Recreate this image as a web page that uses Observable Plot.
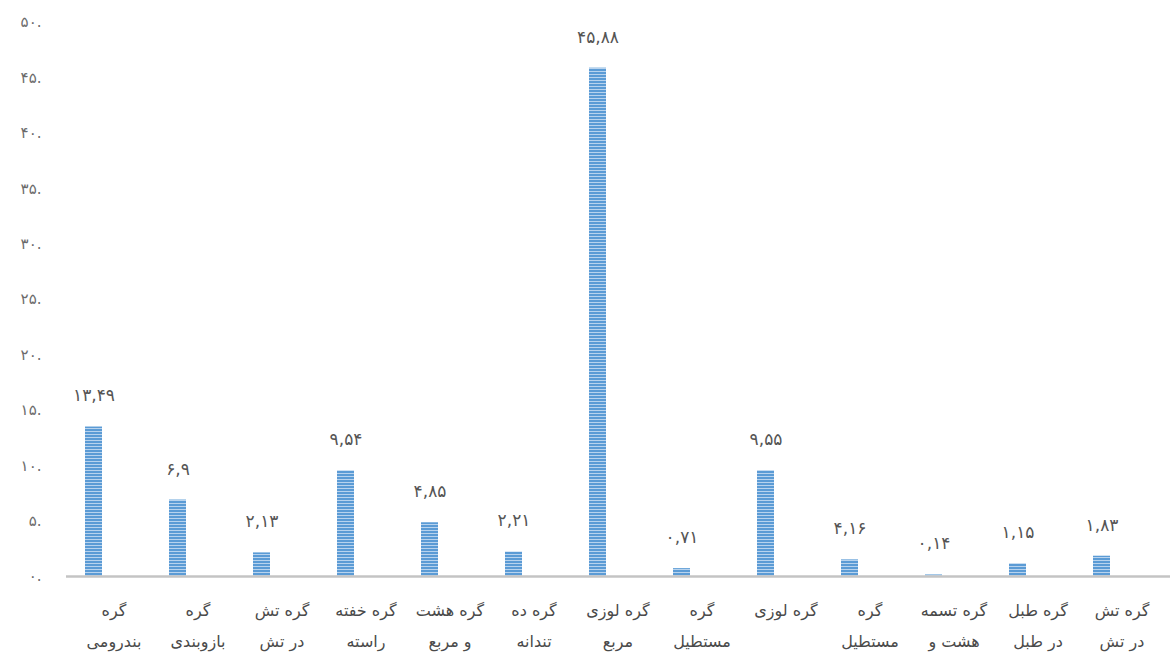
<!DOCTYPE html>
<html>
<head>
<meta charset="utf-8">
<script src="https://cdn.jsdelivr.net/npm/d3@7"></script>
<script src="https://cdn.jsdelivr.net/npm/@observablehq/plot@0.6"></script>
<style>
  body { margin: 0; background: #fff; }
  #chart { width: 1171px; height: 654px; }
</style>
</head>
<body>
<div id="chart"></div>
<script>
// Categories (full names) and how their axis labels wrap
const categories = [
  "گره بندرومی", "گره بازوبندی", "گره تش در تش", "گره خفته راسته", "گره هشت و مربع",
  "گره ده تندانه", "گره لوزی مربع", "گره مستطیل", "گره لوزی", "گره مستطیل",
  "گره تسمه هشت و", "گره طبل در طبل", "گره تش در تش"
];
const tickLabels = [
  "گره\nبندرومی", "گره\nبازوبندی", "گره تش\nدر تش", "گره خفته\nراسته", "گره هشت\nو مربع",
  "گره ده\nتندانه", "گره لوزی\nمربع", "گره\nمستطیل", "گره لوزی", "گره\nمستطیل",
  "گره تسمه\nهشت و", "گره طبل\nدر طبل", "گره تش\nدر تش"
];
// Bar heights as drawn
const values = [13.49, 6.9, 2.13, 9.54, 4.85, 2.21, 45.88, 0.71, 9.55, 1.5, 0.14, 1.15, 1.83];
// Printed data labels
const labelValues = [13.49, 6.9, 2.13, 9.54, 4.85, 2.21, 45.88, 0.71, 9.55, 4.16, 0.14, 1.15, 1.83];
// Y axis ticks
const yTicks = [0, 5, 10, 15, 20, 25, 30, 35, 40, 45, 50];

const faDigits = "۰۱۲۳۴۵۶۷۸۹";
const toFa = s => String(s).replace(/[0-9]/g, d => faDigits[+d]).replace(/\./g, ",");

const idx = categories.map((_, i) => i);
const data = idx.map(i => ({i, v: values[i], label: toFa(labelValues[i])}));

const plot = Plot.plot({
  width: 1171,
  height: 654,
  marginTop: 22,
  marginBottom: 78,
  marginLeft: 66,
  marginRight: 1,
  style: {fontFamily: "'DejaVu Sans', sans-serif", background: "#fff", overflow: "visible"},
  x: {type: "band", domain: idx, range: [45.5, 1149.5], paddingInner: 0.8, paddingOuter: 0.4},
  y: {domain: [0, 50], range: [576, 22]},
  marks: [
    Plot.axisY({ticks: yTicks, tickSize: 0, tickPadding: 25, tickFormat: d => toFa(d) + ".", fontSize: 15, color: "#6b6b6b", label: null}),
    Plot.axisX({tickSize: 0, tickPadding: 17, tickFormat: i => tickLabels[i], fontSize: 16, color: "#4a4a4a", dx: 20, label: null, lineHeight: 1.95}),
    Plot.barY(data, {x: "i", y: "v", fill: "url(#stripes)"}),
    Plot.ruleY([0], {stroke: "#c4c4c4", strokeWidth: 2.5}),
    Plot.text(data, {x: "i", y: "v", text: "label", dy: -31, fontSize: 17, fill: "#555555", lineAnchor: "middle"})
  ]
});

const defs = d3.select(plot).insert("defs", ":first-child");
const pat = defs.append("pattern").attr("id", "stripes").attr("patternUnits", "userSpaceOnUse")
  .attr("width", 10).attr("height", 3);
pat.append("rect").attr("width", 10).attr("height", 3).attr("fill", "#5b9bd5");
pat.append("rect").attr("y", 2).attr("width", 10).attr("height", 1).attr("fill", "#b8d3ee");

d3.select(plot).selectAll('g[aria-label="text"] text').style("letter-spacing", "4px");
d3.select(plot).selectAll('g[aria-label="y-axis tick label"] text').style("letter-spacing", "3px");

document.getElementById("chart").appendChild(plot);
</script>
</body>
</html>
